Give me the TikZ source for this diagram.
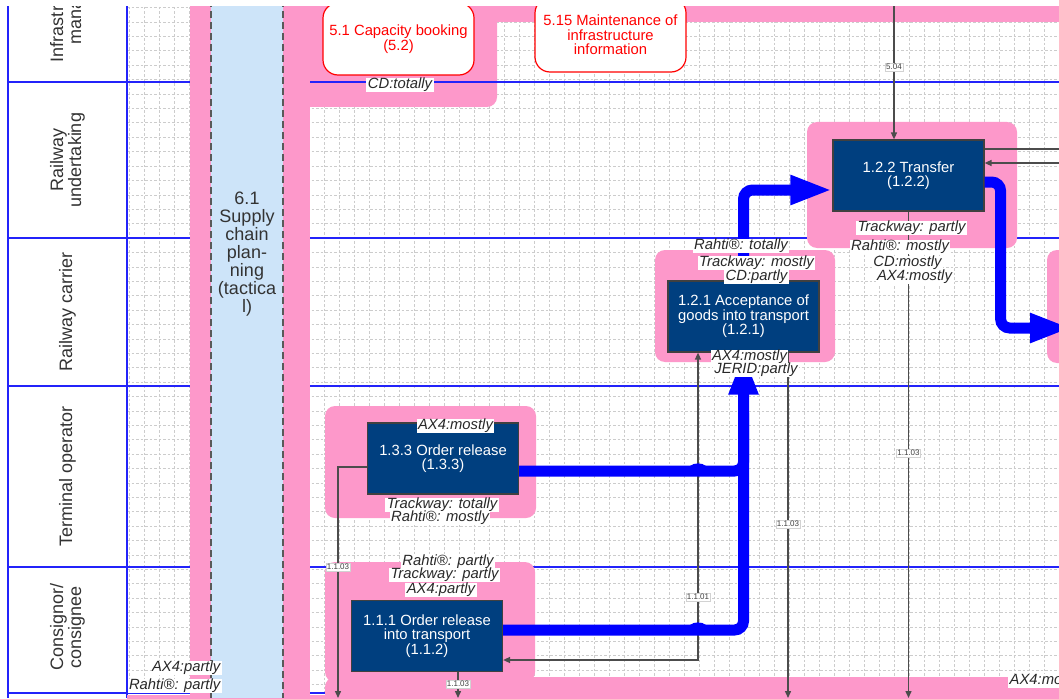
\documentclass[tikz,border=0pt]{standalone}
\usepackage{fontspec}
\setmainfont{Liberation Sans}
\usetikzlibrary{arrows.meta,positioning,calc}
\definecolor{lanepink}{RGB}{253,152,202}
\definecolor{planblue}{RGB}{205,228,249}
\definecolor{procblue}{RGB}{0,63,127}
\definecolor{laneblue}{RGB}{35,35,250}
\definecolor{flowblue}{RGB}{0,0,255}
\definecolor{tagtext}{RGB}{40,40,40}
\newcommand\procfont{\fontsize{14.8}{14.5}\selectfont}
\newcommand\tagfont{\fontsize{14.8}{15}\selectfont\itshape}
\newcommand\lanefont{\fontsize{18}{18}\selectfont}
\newcommand\numfont{\fontsize{8}{8}\selectfont}

\begin{document}
\begin{tikzpicture}[x=1pt,y=-1pt,>={Triangle[length=7pt,width=6pt]},
  gridline/.style={gray!40,line width=0.6pt,dash pattern=on 2.5pt off 2pt},
  lane/.style={laneblue,line width=2pt},
  lanelabel/.style={rotate=90,align=center,font=\lanefont,text=black!80},
  plandash/.style={black!65,line width=1.8pt,dash pattern=on 7pt off 4pt},
  halo/.style={fill=lanepink,rounded corners=10pt},
  proc/.style={draw=black!75,line width=1.2pt,fill=procblue,text=white,align=center,
    minimum width=151pt,minimum height=71pt,font=\procfont},
  ext/.style={draw=red,line width=1.2pt,fill=white,text=red,rounded corners=15pt,
    align=center,minimum width=151pt,font=\procfont},
  tag/.style={fill=white,text=tagtext,inner xsep=1.5pt,inner ysep=0pt,font=\tagfont},
  num/.style={fill=white,draw=gray!35,line width=0.3pt,inner sep=1pt,text=black!75,font=\numfont},
  ar/.style={->,draw=black!70,line width=1.4pt},
  flow/.style={flowblue,line width=11pt,rounded corners=9pt},
  bigflow/.style={flow,-{Triangle[length=42pt,width=27pt]}}]
\useasboundingbox (0,0) rectangle (1059,698);
\fill[white] (0,0) rectangle (1059,698);
\begin{scope}
\clip (0,7) rectangle (1059,698);
% --- grid of the lanes ---
\foreach \gx in {129,144,...,1059} \draw[gridline] (\gx,7) -- (\gx,698);
\foreach \gy in {7.6,22,...,698} \draw[gridline] (127,\gy) -- (1059,\gy);
% --- pink areas behind the top lane ---
\fill[lanepink,rounded corners=10pt] (300,-20) rectangle (497,107);
\fill[lanepink] (300,-20) rectangle (1070,22);
% --- lane lines and header column ---
\foreach \ly in {82,238,386,567,693} \draw[lane] (8,\ly) -- (1059,\ly);
\draw[lane] (8,0) -- (8,698);
\draw[lane] (127,0) -- (127,698);
\node[lanelabel] (lnim) at (67.5,9) {Infrastructure\\manager};
\node[lanelabel] (lnru) at (67.5,160) {Railway\\undertaking};
\node[lanelabel] (lnrc) at (67.5,312) {Railway carrier};
\node[lanelabel] (lnto) at (67.5,476) {Terminal operator};
\node[lanelabel] (lncc) at (67.5,627) {Consignor/\\consignee};
% --- supply chain planning column ---
\fill[lanepink] (190,0) rectangle (310,698);
\fill[lanepink] (127,695) rectangle (1059,705);
\fill[planblue] (211,0) rectangle (283,698);
\draw[plandash] (211,0) -- (211,698);
\draw[plandash] (283,0) -- (283,698);
\node[align=center,font=\lanefont,text=black!80] (scp) at (247,254)
  {6.1\\Supply\\chain\\plan-\\ning\\(tactica\\l)};
% --- halos of the process groups ---
\fill[halo] (807,122) rectangle (1017,248);
\fill[halo] (655,250) rectangle (835,362);
\fill[halo] (1047,250) rectangle (1090,363);
\fill[halo] (325,406) rectangle (536,518);
\fill[halo] (325,562) rectangle (535,682);
\fill[halo] (325,677) rectangle (1090,720);
% --- processes ---
\node[ext,minimum height=72pt] (cap) at (398.5,39) {5.1 Capacity booking\\(5.2)};
\node[ext,minimum height=74pt] (mnt) at (610.5,35) {5.15 Maintenance of\\infrastructure\\information};
\node[proc] (tr) at (908.5,175.5) {1.2.2 Transfer\\(1.2.2)};
\node[proc] (acc) at (743.5,316.5) {1.2.1 Acceptance of\\goods into transport\\(1.2.1)};
\node[proc] (orel) at (443,458.5) {1.3.3 Order release\\(1.3.3)};
\node[proc] (oit) at (427,636) {1.1.1 Order release\\into transport\\(1.1.2)};
% --- information flows ---
\coordinate (bot) at (0,698);
\coordinate (t504) at (894,-10);
\coordinate (rout) at (1080,149);
\coordinate (rin) at (1080,163);
\coordinate (j101) at (698,660);
\coordinate (j103) at (338,467);
\draw[ar] (t504) -- (t504 |- tr.north);
\draw[ar] (tr.east |- rout) -- (rout);
\draw[ar] (rin) -- (tr.east |- rin);
\draw[ar] (tr.south) -- (tr.south |- bot);
\draw[ar] ([xshift=44.5pt]acc.south) -- ([xshift=44.5pt]acc.south |- bot);
\draw[ar,<->] (oit.east |- j101) -- (j101) -- (j101 |- acc.south);
\draw[ar] (orel.west |- j103) -- (j103) -- (j103 |- bot);
\draw[ar] ([xshift=31pt]oit.south) -- ([xshift=31pt]oit.south |- bot);
% --- material flows ---
\coordinate (rtgt) at (1072,328);
\draw[bigflow] ([yshift=-6.5pt]tr.east) -- ++(16,0) -- ++(0,146) -- (rtgt);
\draw[bigflow] (acc.north) |- ([yshift=-14.5pt]tr.west);
\draw[flow] ([yshift=-12.5pt]orel.east) -| ([yshift=-60pt]acc.south);
\draw[bigflow] ([yshift=6pt]oit.east) -| (acc.south);
% line jumps over flow 1.1.01
\fill[flowblue] (690,466) .. controls (694,462.5) and (702,462.5) .. (706,466) -- cycle;
\fill[flowblue] (690,625) .. controls (694,621.5) and (702,621.5) .. (706,625) -- cycle;
% --- flow numbers ---
\node[num] (n504) at (894,67) {5.04};
\node[num] (n103a) at (908.5,453) {1.1.03};
\node[num] (n103b) at (788,524) {1.1.03};
\node[num] (n101) at (698,597) {1.1.01};
\node[num] (n103c) at (338,567) {1.1.03};
\node[num] (n103d) at (458,684) {1.1.03};
% --- coverage tags ---
\node[tag] (cdt) at (400,85) {CD:totally};
\node[tag] (tr1) at (911.5,228) {Trackway: partly};
\node[tag] (tr2) at (900,247) {Rahti®: mostly};
\node[tag] (tr3) at (907.5,263) {CD:mostly};
\node[tag] (tr4) at (914.5,277) {AX4:mostly};
\node[tag] (ac1) at (741,246) {Rahti®: totally};
\node[tag] (ac2) at (756.5,263) {Trackway: mostly};
\node[tag] (ac3) at (756.5,277) {CD:partly};
\node[tag] (ac4) at (749.5,357) {AX4:mostly};
\node[tag] (ac5) at (756,370) {JERID:partly};
\node[tag] (or1) at (455.5,426) {AX4:mostly};
\node[tag] (or2) at (442,505) {Trackway: totally};
\node[tag] (or3) at (440,518) {Rahti®: mostly};
\node[tag] (oi1) at (448,562) {Rahti®: partly};
\node[tag] (oi2) at (444.5,575) {Trackway: partly};
\node[tag] (oi3) at (441,590) {AX4:partly};
\node[tag,anchor=east] (sc1) at (222,668) {AX4:partly};
\node[tag,anchor=east] (sc2) at (222,686) {Rahti®: partly};
\node[tag,anchor=west] (rt1) at (1008,681) {AX4:mostly};
\end{scope}
\end{tikzpicture}
\end{document}
